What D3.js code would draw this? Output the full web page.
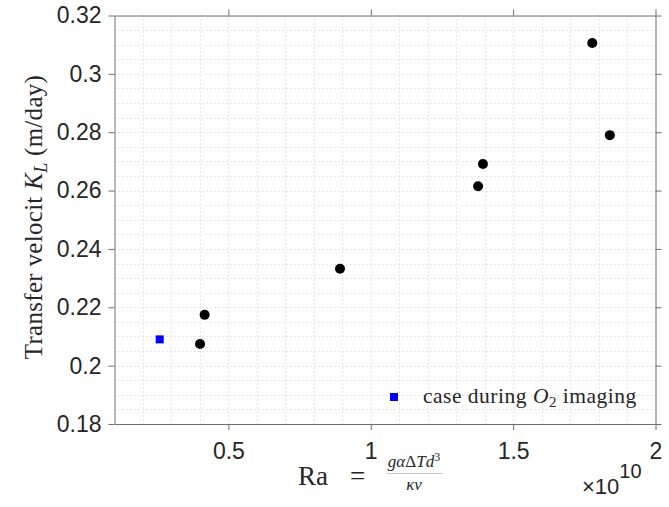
<!DOCTYPE html>
<html>
<head>
<meta charset="utf-8">
<script src="https://cdn.jsdelivr.net/npm/d3@7"></script>
<style>
body { margin: 0; background: #fff; }
.tick text { font-family: "Liberation Sans", Arial, sans-serif; font-size: 23px; fill: #262626; }
.serif { font-family: "Liberation Serif", "Times New Roman", serif; fill: #262626; }
</style>
</head>
<body>
<div id="chart"></div>
<script>
// Rayleigh number (x 1e10) and transfer velocity (m/day)
var raValues = [0.4004, 0.4165, 0.892, 1.377, 1.394, 1.778, 1.8396];
var klValues = [0.2074, 0.2174, 0.2332, 0.2615, 0.2691, 0.3106, 0.2790];
// case during O2 imaging
var raO2 = [0.2588];
var klO2 = [0.209];

var xTicks = [0.5, 1, 1.5, 2];
var yTicks = [0.18, 0.2, 0.22, 0.24, 0.26, 0.28, 0.3, 0.32];
var xMinor = d3.range(2, 20).map(function (d) { return d / 10; });
var yMinor = d3.range(36, 65).map(function (d) { return d / 200; });

var width = 669, height = 507;
var margin = {top: 15.5, right: 13.5, bottom: 83, left: 114.5};

var svg = d3.select("#chart").append("svg")
	.attr("width", width).attr("height", height);

var x = d3.scaleLinear().domain([0.1, 2]).range([margin.left, width - margin.right]);
var y = d3.scaleLinear().domain([0.18, 0.32]).range([height - margin.bottom, margin.top]);

// dotted grid
var grid = svg.append("g").attr("stroke", "#cfcfcf").attr("stroke-width", 1).attr("stroke-dasharray", "1,3");
grid.selectAll("line.vx").data(xMinor).enter().append("line")
	.attr("x1", function (d) { return Math.round(x(d)) + 0.5; })
	.attr("x2", function (d) { return Math.round(x(d)) + 0.5; })
	.attr("y1", y(0.32)).attr("y2", y(0.18));
grid.selectAll("line.hy").data(yMinor).enter().append("line")
	.attr("y1", function (d) { return Math.round(y(d)) + 0.5; })
	.attr("y2", function (d) { return Math.round(y(d)) + 0.5; })
	.attr("x1", x(0.1)).attr("x2", x(2));

// axes (box with outward ticks)
function styleAxis(g) {
	g.select(".domain").attr("stroke", "#6e6e6e");
	g.selectAll(".tick line").attr("stroke", "#6e6e6e");
}

svg.append("g")
	.attr("transform", "translate(0," + y(0.18) + ")")
	.call(d3.axisBottom(x).tickValues(xTicks).tickSize(6).tickSizeOuter(0).tickPadding(13)
		.tickFormat(function (d) { return d3.format("")(d); }))
	.call(styleAxis);

svg.append("g")
	.attr("transform", "translate(0," + y(0.32) + ")")
	.call(d3.axisTop(x).tickValues(xTicks).tickSize(6).tickSizeOuter(0).tickFormat(""))
	.call(styleAxis);

svg.append("g")
	.attr("transform", "translate(" + x(0.1) + ",0)")
	.call(d3.axisLeft(y).tickValues(yTicks).tickSize(6).tickSizeOuter(0).tickPadding(7)
		.tickFormat(function (d) { return d3.format("")(+d.toFixed(2)); }))
	.call(styleAxis);

svg.append("g")
	.attr("transform", "translate(" + x(2) + ",0)")
	.call(d3.axisRight(y).tickValues(yTicks).tickSize(6).tickSizeOuter(0).tickFormat(""))
	.call(styleAxis);

svg.selectAll(".tick text").attr("fill", "#262626");

// data points
svg.append("g").selectAll("circle")
	.data(raValues.map(function (d, i) { return [d, klValues[i]]; }))
	.enter().append("circle")
	.attr("cx", function (d) { return x(d[0]); })
	.attr("cy", function (d) { return y(d[1]); })
	.attr("r", 5)
	.attr("fill", "#000");

svg.append("g").selectAll("rect")
	.data(raO2.map(function (d, i) { return [d, klO2[i]]; }))
	.enter().append("rect")
	.attr("x", function (d) { return x(d[0]) - 4; })
	.attr("y", function (d) { return y(d[1]) - 4; })
	.attr("width", 8).attr("height", 8)
	.attr("fill", "#0000ff");

// legend
var legend = svg.append("g");
legend.append("rect").attr("x", 390).attr("y", 393).attr("width", 8).attr("height", 8).attr("fill", "#0000ff");
var lt = legend.append("text").attr("class", "serif").attr("x", 423).attr("y", 403)
	.style("font-size", "21.5px").style("letter-spacing", "0.5px");
lt.append("tspan").text("case during ");
lt.append("tspan").style("font-style", "italic").text("O");
lt.append("tspan").attr("dy", 4).style("font-size", "15px").text("2");
lt.append("tspan").attr("dy", -4).text(" imaging");

// y label
var yl = svg.append("text").attr("class", "serif")
	.attr("transform", "translate(42,217) rotate(-90)")
	.attr("text-anchor", "middle")
	.style("font-size", "25px").style("letter-spacing", "0.3px");
yl.append("tspan").text("Transfer velocit ");
yl.append("tspan").style("font-style", "italic").text("K");
yl.append("tspan").attr("dy", 5).style("font-style", "italic").style("font-size", "18px").text("L");
yl.append("tspan").attr("dy", -5).text(" (m/day)");

// x label
var xl = svg.append("g");
xl.append("text").attr("class", "serif").attr("x", 298).attr("y", 485).style("font-size", "27px").text("Ra");
xl.append("text").attr("class", "serif").attr("x", 350).attr("y", 485).style("font-size", "27px").text("=");
var num = xl.append("text").attr("class", "serif").attr("x", 414).attr("y", 467).attr("text-anchor", "middle")
	.style("font-size", "17px");
num.append("tspan").style("font-style", "italic").text("gα");
num.append("tspan").text("Δ");
num.append("tspan").style("font-style", "italic").text("Td");
num.append("tspan").attr("dy", -6).style("font-size", "12px").text("3");
xl.append("line").attr("x1", 386).attr("x2", 443).attr("y1", 473.5).attr("y2", 473.5)
	.attr("stroke", "#aaa").attr("stroke-width", 0.6);
xl.append("text").attr("class", "serif").attr("x", 414).attr("y", 490).attr("text-anchor", "middle")
	.style("font-size", "17px").style("font-style", "italic").text("κν");

// exponent
var ex = svg.append("text").attr("x", 582).attr("y", 494)
	.style("font-family", "Liberation Sans, Arial, sans-serif").style("font-size", "22px").attr("fill", "#262626");
ex.append("tspan").text("×10");
ex.append("tspan").attr("dy", -16).style("font-size", "20px").text("10");
</script>
</body>
</html>
